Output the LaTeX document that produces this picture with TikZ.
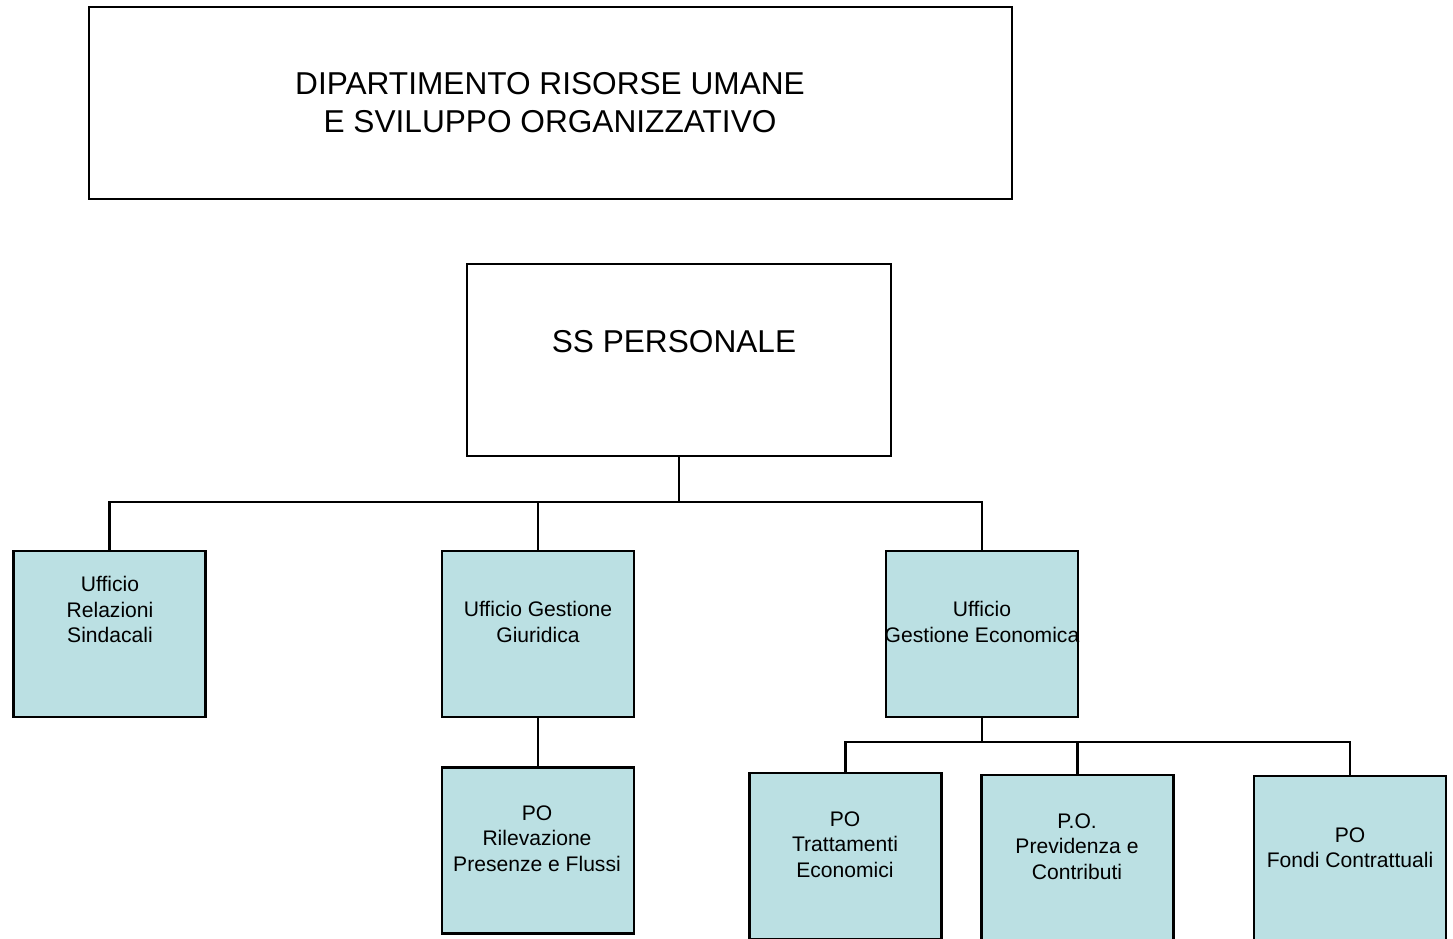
\documentclass[tikz,border=0pt]{standalone}
\usepackage{fontspec}
\setmainfont{Liberation Sans}
\usepackage{xcolor}
\usepackage{tikz}
\definecolor{boxfill}{RGB}{187,224,227}

\begin{document}
\begin{tikzpicture}[x=0.02cm,y=-0.02cm]
        \useasboundingbox (0,0) rectangle (1453,939);
        \begin{scope}[every node/.style={draw=black,line width=1.2pt,rectangle,inner sep=0pt}]
          \node[fill=white,minimum width=923*0.02cm,minimum height=192*0.02cm] (dip) at (550.5,103) {};
          \node[fill=white,minimum width=424*0.02cm,minimum height=192*0.02cm] (ss) at (679,360) {};
        \end{scope}
        \begin{scope}[every node/.style={draw=black,line width=1.2pt,rectangle,inner sep=0pt,fill=boxfill,
            minimum width=192*0.02cm,minimum height=166*0.02cm}]
          \node (rel) at (109.5,634) {};
          \node (giur) at (538,634) {};
          \node (econ) at (982,634) {};
          \node (ril) at (538,850.5) {};
          \node (tratt) at (845.5,856) {};
          \node (prev) at (1077.5,858) {};
          \node (fondi) at (1350,859) {};
        \end{scope}
        \begin{scope}[every node/.style={align=center,font=\fontsize{18}{21.6}\selectfont}]
          \node (tdip) at (550,103) {DIPARTIMENTO RISORSE UMANE\\E SVILUPPO ORGANIZZATIVO};
          \node (tss) at (674,342) {SS PERSONALE};
        \end{scope}
        \begin{scope}[every node/.style={align=center,font=\fontsize{12}{14.5}\selectfont}]
          \node (trel) at (110,609.5) {Ufficio\\Relazioni\\Sindacali};
          \node (tgiur) at (538,622) {Ufficio Gestione\\Giuridica};
          \node (tecon) at (982,622) {Ufficio\\Gestione Economica};
          \node (tril) at (537,838.5) {PO\\Rilevazione\\Presenze e Flussi};
          \node (ttratt) at (845,844.5) {PO\\Trattamenti\\Economici};
          \node (tprev) at (1077,846.5) {P.O.\\Previdenza e\\Contributi};
          \node (tfondi) at (1350,847.5) {PO\\Fondi Contrattuali};
        \end{scope}
        \coordinate (j1) at (679,502);
        \coordinate (j2) at (982,742);
        \begin{scope}[line width=1.2pt]
          \draw (ss.south) -- (j1);
          \draw (rel.north) |- (j1);
          \draw (econ.north) |- (j1);
          \draw (giur.north) -- (giur.north |- j1);
          \draw (giur.south) -- (ril.north);
          \draw (econ.south) -- (j2);
          \draw (tratt.north) |- (j2);
          \draw (fondi.north) |- (j2);
          \draw (prev.north) -- (prev.north |- j2);
        \end{scope}
      \end{tikzpicture}
\end{document}
